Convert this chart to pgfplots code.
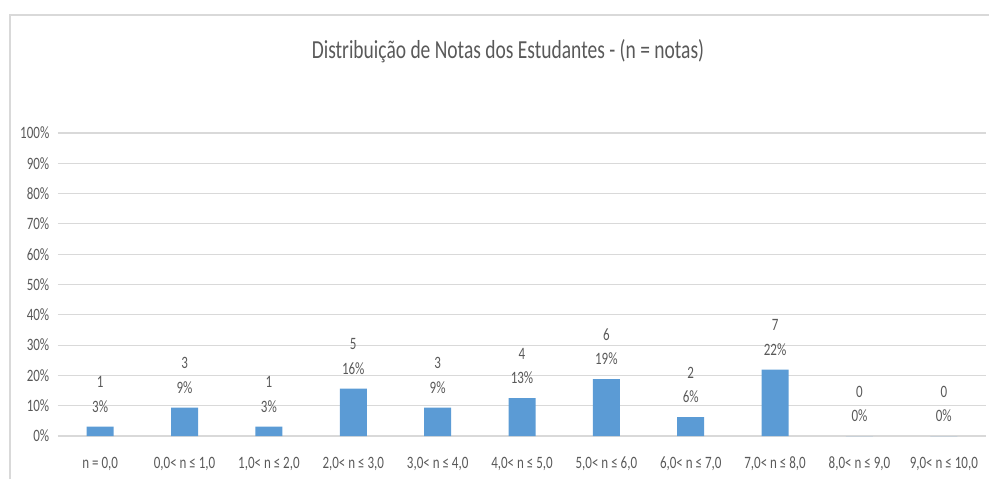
\documentclass[border=0pt]{standalone}
\usepackage{pgfplots}
\pgfplotsset{compat=1.18}
\usepackage{pgfplotstable}
\usepackage{fontspec}
\setmainfont{Carlito}[FakeStretch=0.75]
\definecolor{barblue}{HTML}{5B9BD5}
\definecolor{txt}{HTML}{595959}
\definecolor{gridc}{HTML}{D9D9D9}
\pgfplotstableread{
x y n p
0 3.125 1 3
1 9.375 3 9
2 3.125 1 3
3 15.625 5 16
4 9.375 3 9
5 12.5 4 13
6 18.75 6 19
7 6.25 2 6
8 21.875 7 22
9 0 0 0
10 0 0 0
}\datatable
\begin{document}
\begin{tikzpicture}
\path[use as bounding box] (0,0) rectangle (741.75pt,359.25pt);
\draw[gridc, line width=1pt] (7.5pt,0) -- (7.5pt,348pt) -- (741.75pt,348pt);
\node[txt, anchor=base, inner sep=0pt, font=\fontsize{19.5}{23}\selectfont] at (381pt,315.5pt) {Distribuição de Notas dos Estudantes - (n = notas)};
\begin{axis}[
  at={(43.5pt,32.25pt)}, anchor=south west,
  scale only axis, width=696pt, height=227.25pt,
  xmin=-0.5, xmax=10.5, ymin=0, ymax=100,
  ytick={0,10,...,100},
  yticklabel={\pgfmathprintnumber{\tick}\%},
  /pgf/number format/assume math mode=true,
  xtick={0,...,10},
  xticklabels={{n = 0,0},{0,0< n ≤ 1,0},{1,0< n ≤ 2,0},{2,0< n ≤ 3,0},{3,0< n ≤ 4,0},{4,0< n ≤ 5,0},{5,0< n ≤ 6,0},{6,0< n ≤ 7,0},{7,0< n ≤ 8,0},{8,0< n ≤ 9,0},{9,0< n ≤ 10,0}},
  major tick length=0pt,
  axis line style={draw=none},
  ymajorgrids, grid style={gridc, line width=0.8pt},
  ticklabel style={txt, font=\fontsize{13}{15}\selectfont},
  yticklabel style={anchor=east, xshift=-3pt},
  xticklabel style={anchor=base, yshift=-24pt},
  ybar, bar width=20.25pt,
  nodes near coords={\pgfmathprintnumber[fixed,precision=0]{\cnt}\\\pgfmathprintnumber[fixed,precision=0]{\pct}\%},
  nodes near coords style={txt, align=center, anchor=south, inner sep=0pt, yshift=10.5pt, font=\fontsize{13}{18.4}\selectfont},
]
\addplot[fill=barblue, draw=none,
  visualization depends on={\thisrow{n}\as\cnt},
  visualization depends on={\thisrow{p}\as\pct}]
  table[x=x, y=y] {\datatable};
\end{axis}
\end{tikzpicture}
\end{document}
